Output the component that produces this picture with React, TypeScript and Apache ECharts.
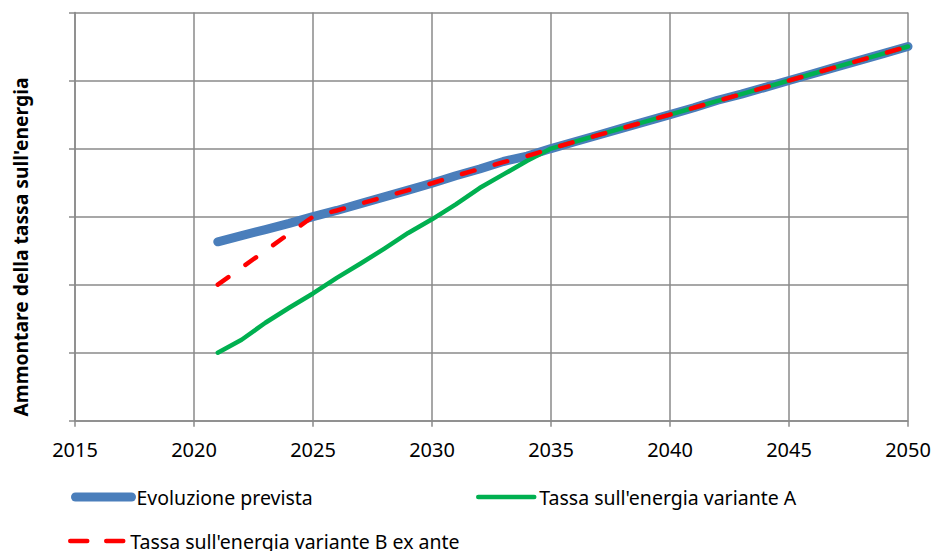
import React, { useEffect, useRef } from "react";
import * as echarts from "echarts";

const years = [2021, 2022, 2023, 2024, 2025, 2026, 2027, 2028, 2029, 2030, 2031, 2032, 2033, 2034, 2035, 2036, 2037, 2038, 2039, 2040, 2041, 2042, 2043, 2044, 2045, 2046, 2047, 2048, 2049, 2050];

const evoluzione = [2.63, 2.72, 2.81, 2.9, 3.0, 3.09, 3.19, 3.29, 3.39, 3.49, 3.6, 3.7, 3.81, 3.89, 4.0, 4.1, 4.2, 4.3, 4.4, 4.5, 4.6, 4.71, 4.8, 4.9, 5.0, 5.1, 5.2, 5.3, 5.4, 5.5];

const varianteA = [1.0, 1.19, 1.44, 1.66, 1.87, 2.1, 2.31, 2.53, 2.76, 2.96, 3.18, 3.42, 3.62, 3.82, 4.0, 4.1, 4.2, 4.3, 4.4, 4.5, 4.6, 4.7, 4.8, 4.9, 5.0, 5.1, 5.2, 5.3, 5.4, 5.5];

const varianteB = [2.0, 2.25, 2.5, 2.75, 3.0, 3.09, 3.19, 3.29, 3.39, 3.49, 3.6, 3.7, 3.8, 3.89, 4.0, 4.1, 4.2, 4.3, 4.4, 4.5, 4.6, 4.7, 4.8, 4.9, 5.0, 5.1, 5.2, 5.3, 5.4, 5.5];

const seriesNames = ["Evoluzione prevista", "Tassa sull'energia variante A", "Tassa sull'energia variante B ex ante"];
const xTicks = { min: 2015, max: 2050, interval: 5 };
const yTicks = { min: 0, max: 6, interval: 1 };
const yAxisTitle = "Ammontare della tassa sull'energia";

const FONT = "Noto Sans";
const GRID = "#8a8a8a";
const BLUE = "#4a7ebb";
const GREEN = "#00b050";
const RED = "#ff0000";

function pairs(vals: number[]) {
  return years.map((y, i) => [y, vals[i]]);
}

export default function App() {
  const ref = useRef<HTMLDivElement>(null);
  useEffect(() => {
    if (!ref.current) return;
    const chart = echarts.init(ref.current, undefined, { renderer: "svg" });
    const legendBase = {
      orient: "horizontal" as const,
      padding: 0,
      itemHeight: 20,
      selectedMode: false,
      itemStyle: { opacity: 0 },
      textStyle: { fontFamily: FONT, fontSize: 19.5, color: "#000" },
    };
    chart.setOption({
      animation: false,
      backgroundColor: "#fff",
      grid: { left: 75, right: 26, top: 12.5, bottom: 130.3, containLabel: false },
      xAxis: {
        type: "value",
        min: xTicks.min,
        max: xTicks.max,
        interval: xTicks.interval,
        axisLine: { show: true, lineStyle: { color: GRID, width: 1.5 } },
        axisTick: { show: true, length: 6, lineStyle: { color: GRID, width: 1.5 } },
        splitLine: { show: true, lineStyle: { color: GRID, width: 1.5 } },
        axisLabel: { fontFamily: FONT, fontSize: 20, color: "#000", margin: 19, formatter: (v: number) => String(v) },
      },
      yAxis: {
        type: "value",
        min: yTicks.min,
        max: yTicks.max,
        interval: yTicks.interval,
        axisLine: { show: true, lineStyle: { color: GRID, width: 1.5 } },
        axisTick: { show: true, length: 6, lineStyle: { color: GRID, width: 1.5 } },
        splitLine: { show: true, lineStyle: { color: GRID, width: 1.5 } },
        axisLabel: { show: false },
      },
      legend: [
        { ...legendBase, left: 71, top: 487, itemWidth: 56, data: [seriesNames[0]], lineStyle: { width: 9, cap: "round" } },
        { ...legendBase, left: 476, top: 487, itemWidth: 56, data: [seriesNames[1]], lineStyle: { width: 4.5, cap: "round" } },
        { ...legendBase, left: 68, top: 531, itemWidth: 55, data: [seriesNames[2]], lineStyle: { width: 4.5, type: [17, 19], cap: "round" } },
      ],
      graphic: [
        {
          type: "text",
          x: 20,
          y: 247,
          rotation: Math.PI / 2,
          style: {
            text: yAxisTitle,
            x: 0,
            y: 0,
            align: "center",
            verticalAlign: "middle",
            fontFamily: FONT,
            fontSize: 19.3,
            fontWeight: "bold",
            fill: "#000",
          },
        },
      ],
      series: [
        {
          name: seriesNames[0],
          type: "line",
          data: pairs(evoluzione),
          symbol: "none",
          color: BLUE,
          lineStyle: { color: BLUE, width: 9, cap: "round", join: "round" },
          z: 2,
        },
        {
          name: seriesNames[1],
          type: "line",
          data: pairs(varianteA),
          symbol: "none",
          color: GREEN,
          lineStyle: { color: GREEN, width: 4.5, cap: "round", join: "round" },
          z: 3,
        },
        {
          name: seriesNames[2],
          type: "line",
          data: pairs(varianteB),
          symbol: "none",
          color: RED,
          lineStyle: { color: RED, width: 4.5, type: [13, 21], cap: "round", join: "round" },
          z: 4,
        },
      ],
    });
    return () => chart.dispose();
  }, []);
  return <div ref={ref} style={{ width: 934, height: 551, position: "absolute", left: 0, top: 0 }} />;
}
